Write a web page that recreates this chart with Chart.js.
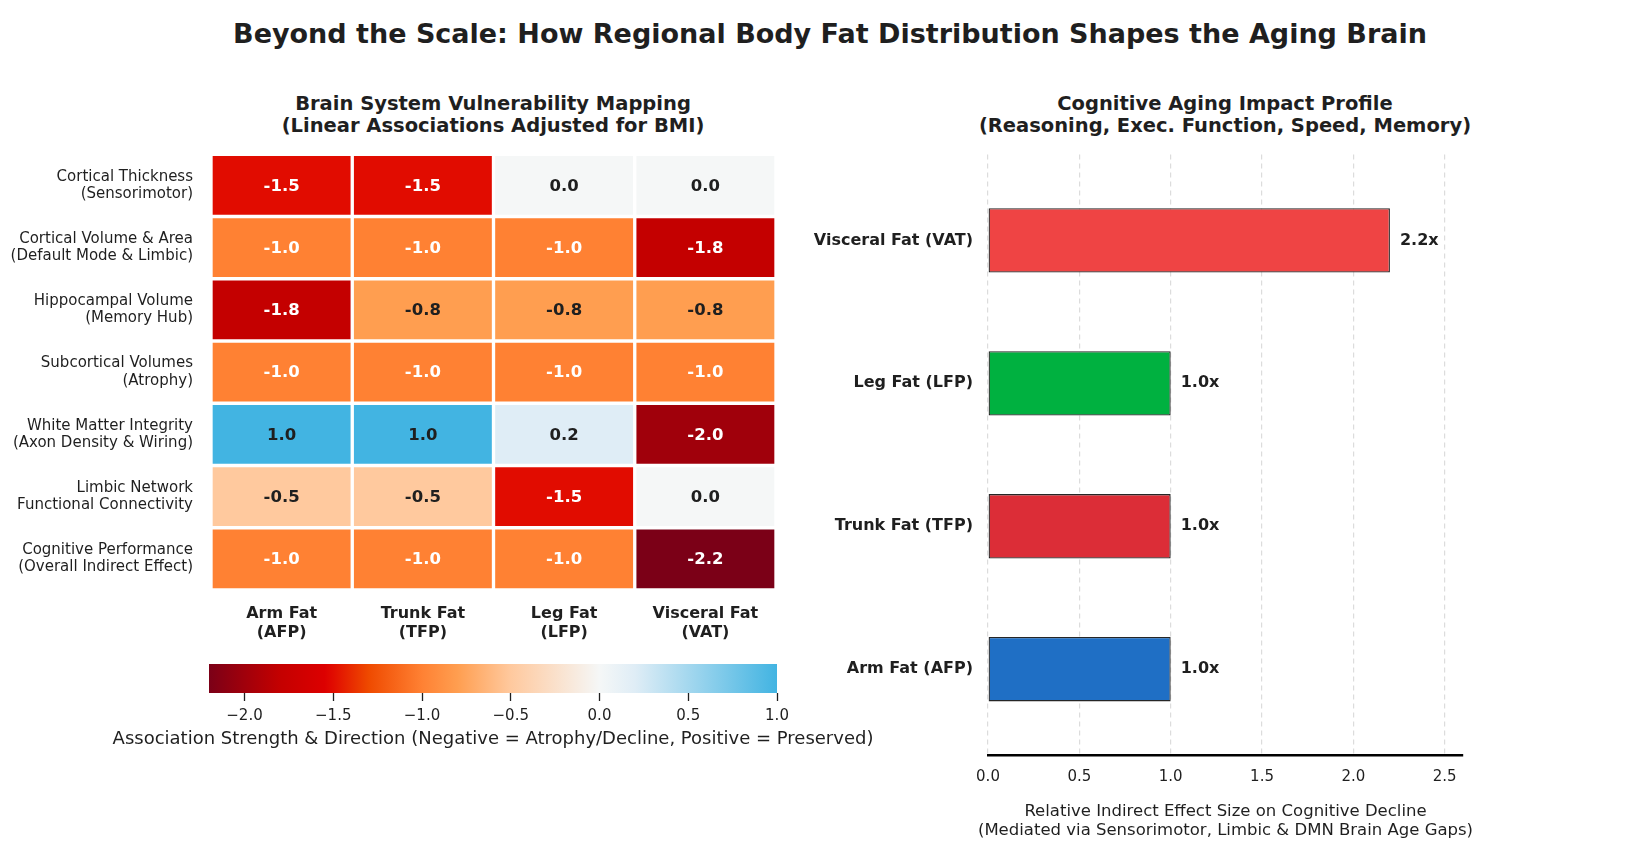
<!DOCTYPE html>
<html>
<head>
<meta charset="utf-8">
<script src="https://cdn.jsdelivr.net/npm/chart.js@4.4.1/dist/chart.umd.min.js"></script>
<style>
html,body{margin:0;padding:0;background:#ffffff;}
#wrap{position:relative;width:1647px;height:866px;overflow:hidden;background:#ffffff;font-family:"DejaVu Sans",sans-serif;color:#1f1f1f;}
.t{position:absolute;white-space:nowrap;transform:translate(-50%,-50%);font-weight:bold;text-align:center;}
canvas{position:absolute;}
</style>
</head>
<body>
<div id="wrap">
  <div class="t" style="left:830px;top:33px;font-size:27px;">Beyond the Scale: How Regional Body Fat Distribution Shapes the Aging Brain</div>
  <div class="t" style="left:493px;top:115px;font-size:19.5px;line-height:22px;">Brain System Vulnerability Mapping<br>(Linear Associations Adjusted for BMI)</div>
  <div class="t" style="left:1225px;top:115px;font-size:19.5px;line-height:22px;">Cognitive Aging Impact Profile<br>(Reasoning, Exec. Function, Speed, Memory)</div>
  <canvas id="heat" style="left:0px;top:119px;width:800px;height:541px;" width="800" height="541"></canvas>
  <canvas id="cbar" style="left:0px;top:650px;width:900px;height:110px;" width="900" height="110"></canvas>
  <canvas id="bars" style="left:800px;top:130px;width:847px;height:736px;" width="847" height="736"></canvas>
</div>
<script>
// ---------- DATA ----------
const heatColumns = [['Arm Fat', '(AFP)'], ['Trunk Fat', '(TFP)'], ['Leg Fat', '(LFP)'], ['Visceral Fat', '(VAT)']];
const heatRows = [
  ['Cortical Thickness', '(Sensorimotor)'],
  ['Cortical Volume & Area', '(Default Mode & Limbic)'],
  ['Hippocampal Volume', '(Memory Hub)'],
  ['Subcortical Volumes', '(Atrophy)'],
  ['White Matter Integrity', '(Axon Density & Wiring)'],
  ['Limbic Network', 'Functional Connectivity'],
  ['Cognitive Performance', '(Overall Indirect Effect)']
];
const rowCorticalThickness   = [-1.5, -1.5, 0.0, 0.0];
const rowCorticalVolume      = [-1.0, -1.0, -1.0, -1.8];
const rowHippocampal         = [-1.8, -0.8, -0.8, -0.8];
const rowSubcortical         = [-1.0, -1.0, -1.0, -1.0];
const rowWhiteMatter         = [1.0, 1.0, 0.2, -2.0];
const rowLimbicConnectivity  = [-0.5, -0.5, -1.5, 0.0];
const rowCognitive           = [-1.0, -1.0, -1.0, -2.2];
const heatValues = [rowCorticalThickness, rowCorticalVolume, rowHippocampal, rowSubcortical, rowWhiteMatter, rowLimbicConnectivity, rowCognitive];

const colorbarRange = [-2.2, 1.0];
const colorbarTicks = [-2.0, -1.5, -1.0, -0.5, 0.0, 0.5, 1.0];
const colorbarTitle = ['Association Strength & Direction (Negative = Atrophy/Decline, Positive = Preserved)'];

const barCategories = ['Arm Fat (AFP)', 'Trunk Fat (TFP)', 'Leg Fat (LFP)', 'Visceral Fat (VAT)'];
const barValues = [1.0, 1.0, 1.0, 2.2];
const barColors = ['#1f6fc5', '#dc2d37', '#00b140', '#ef4444'];
const barTicks = [0.0, 0.5, 1.0, 1.5, 2.0, 2.5];
const barAxisTitle = ['Relative Indirect Effect Size on Cognitive Decline', '(Mediated via Sensorimotor, Limbic & DMN Brain Age Gaps)'];

// ---------- COLORMAP ----------
const cmapStops = [
  [-2.2, '#7b0017'], [-2.0, '#a0000b'], [-1.8, '#c40000'], [-1.55, '#dc0000'], [-1.5, '#e10c00'],
  [-1.3, '#ef4a00'], [-1.0, '#ff8133'], [-0.8, '#ff9e50'], [-0.5, '#ffc99e'], [0.0, '#f5f7f7'],
  [0.2, '#dfedf6'], [1.0, '#42b4e2']
];
function hexToRgb(h){ return [parseInt(h.substr(1,2),16), parseInt(h.substr(3,2),16), parseInt(h.substr(5,2),16)]; }
function cmap(v){
  if (v <= cmapStops[0][0]) return cmapStops[0][1];
  for (let i = 1; i < cmapStops.length; i++){
    const [v1, c1] = cmapStops[i];
    if (v <= v1){
      const [v0, c0] = cmapStops[i-1];
      const t = (v - v0) / (v1 - v0);
      const a = hexToRgb(c0), b = hexToRgb(c1);
      const m = a.map((x, k) => Math.round(x + (b[k] - x) * t));
      return 'rgb(' + m.join(',') + ')';
    }
  }
  return cmapStops[cmapStops.length-1][1];
}

Chart.defaults.font.family = '"DejaVu Sans", sans-serif';
Chart.defaults.color = '#1f1f1f';
Chart.defaults.animation = false;

// Axis title drawn below a horizontal scale without width compression
function axisTitlePlugin(lines, fontSize, lastLineCenterFromBottom, lineFactor) {
  return {
    id: 'axisTitle',
    afterDraw(chart){
      const s = chart.scales.x;
      const ctx = chart.ctx;
      const lh = fontSize * lineFactor;
      ctx.save();
      ctx.font = fontSize + 'px "DejaVu Sans", sans-serif';
      ctx.fillStyle = '#1f1f1f';
      ctx.textAlign = 'center';
      ctx.textBaseline = 'middle';
      const cx = (s.left + s.right) / 2;
      const yLast = s.bottom - lastLineCenterFromBottom;
      lines.forEach((ln, i) => {
        ctx.fillText(ln, cx, yLast - (lines.length - 1 - i) * lh);
      });
      ctx.restore();
    }
  };
}

// ---------- HEATMAP ----------
const heatLabelPlugin = {
  id: 'heatLabels',
  afterDatasetsDraw(chart){
    const ctx = chart.ctx;
    ctx.save();
    ctx.font = 'bold 16.5px "DejaVu Sans", sans-serif';
    ctx.textAlign = 'center';
    ctx.textBaseline = 'middle';
    chart.data.datasets.forEach((ds, r) => {
      chart.getDatasetMeta(r).data.forEach((el, c) => {
        const v = heatValues[r][c];
        const p = el.getCenterPoint();
        ctx.fillStyle = v <= -1.0 ? '#ffffff' : '#1f1f1f';
        ctx.fillText(v.toFixed(1), p.x, p.y + 1);
      });
    });
    ctx.restore();
  }
};

new Chart(document.getElementById('heat'), {
  type: 'bar',
  data: {
    labels: heatColumns,
    datasets: heatRows.map((lab, r) => ({
      label: lab.join(' '),
      data: heatColumns.map(() => [r, r + 1]),
      backgroundColor: heatValues[r].map(v => cmap(v)),
      borderColor: '#ffffff',
      borderWidth: 2,
      borderSkipped: false,
      barPercentage: 1,
      categoryPercentage: 1,
      grouped: false
    }))
  },
  options: {
    responsive: false,
    layout: { padding: { left: 0, right: 24, top: 0, bottom: 0 } },
    plugins: { legend: { display: false }, tooltip: { enabled: false } },
    scales: {
      x: {
        type: 'category',
        offset: true,
        grid: { display: false, drawTicks: false },
        border: { display: false },
        ticks: { font: { size: 16, weight: 'bold', lineHeight: 1.2 }, color: '#1f1f1f', padding: 14, maxRotation: 0, autoSkip: false },
        afterFit(s){ s.height = 70; }
      },
      y: {
        type: 'linear',
        min: 0, max: heatRows.length,
        reverse: true,
        offset: false,
        grid: { display: false, drawTicks: false },
        border: { display: false },
        afterBuildTicks(s){ s.ticks = heatRows.map((_, i) => ({ value: i + 0.5 })); },
        ticks: {
          autoSkip: false,
          font: { size: 15, lineHeight: 1.15 },
          color: '#1f1f1f',
          padding: 18,
          callback: (v) => heatRows[Math.floor(v)]
        },
        afterFit(s){ s.width = 211; }
      }
    }
  },
  plugins: [heatLabelPlugin]
});

// ---------- COLORBAR ----------
new Chart(document.getElementById('cbar'), {
  type: 'bar',
  data: {
    labels: [''],
    datasets: [{
      data: [colorbarRange],
      backgroundColor: (c) => {
        const ch = c.chart, xs = ch.scales.x;
        if (!ch.chartArea || !xs) return '#cccccc';
        const g = ch.ctx.createLinearGradient(xs.left, 0, xs.right, 0);
        cmapStops.forEach(([v, col]) => {
          const f = (xs.getPixelForValue(v) - xs.left) / (xs.right - xs.left);
          g.addColorStop(Math.min(1, Math.max(0, f)), col);
        });
        return g;
      },
      borderWidth: 0,
      barPercentage: 1,
      categoryPercentage: 1
    }]
  },
  options: {
    indexAxis: 'y',
    responsive: false,
    layout: { padding: { left: 209, right: 123, top: 14, bottom: 0 } },
    plugins: { legend: { display: false }, tooltip: { enabled: false } },
    scales: {
      y: { type: 'category', display: false },
      x: {
        type: 'linear',
        min: colorbarRange[0], max: colorbarRange[1],
        afterBuildTicks(s){ s.ticks = colorbarTicks.map(v => ({ value: v })); },
        grid: { display: true, drawOnChartArea: false, drawTicks: true, tickLength: 8, tickColor: '#1f1f1f', tickWidth: 1.3, color: '#1f1f1f' },
        border: { display: false },
        ticks: {
          font: { size: 15 }, color: '#1f1f1f', padding: 6, maxRotation: 0, autoSkip: false,
          callback: (v) => (v < 0 ? '\u2212' : '') + Math.abs(v).toFixed(1)
        },
        afterFit(s){ s.height = 67; }
      }
    }
  },
  plugins: [axisTitlePlugin(colorbarTitle, 18, 21, 1.2)]
});

// ---------- BAR CHART ----------
const barLabelPlugin = {
  id: 'barLabels',
  afterDatasetsDraw(chart){
    const ctx = chart.ctx;
    ctx.save();
    ctx.font = 'bold 16px "DejaVu Sans", sans-serif';
    ctx.textAlign = 'left';
    ctx.textBaseline = 'middle';
    ctx.fillStyle = '#1f1f1f';
    chart.getDatasetMeta(0).data.forEach((el, i) => {
      ctx.fillText(barValues[i].toFixed(1) + 'x', el.x + 10, el.y);
    });
    ctx.restore();
  }
};

new Chart(document.getElementById('bars'), {
  type: 'bar',
  data: {
    datasets: [{
      data: barValues.map((v, i) => ({ x: v, y: i })),
      backgroundColor: barColors,
      borderColor: '#262626',
      borderWidth: 1.3,
      borderSkipped: false,
      barPercentage: 0.45,
      categoryPercentage: 1
    }]
  },
  options: {
    indexAxis: 'y',
    responsive: false,
    layout: { padding: { left: 0, right: 184, top: 0, bottom: 0 } },
    plugins: { legend: { display: false }, tooltip: { enabled: false } },
    scales: {
      y: {
        type: 'linear',
        min: -0.6, max: 3.6,
        offset: false,
        grid: { display: false, drawTicks: false, offset: false },
        border: { display: false },
        afterBuildTicks(s){ s.ticks = barCategories.map((_, i) => ({ value: i })); },
        ticks: {
          autoSkip: false,
          font: { size: 16, weight: 'bold' }, color: '#1f1f1f', padding: 15,
          callback: (v) => barCategories[v]
        },
        afterFit(s){ s.width = 188; }
      },
      x: {
        type: 'linear',
        min: 0, max: 2.6,
        afterBuildTicks(s){ s.ticks = barTicks.map(v => ({ value: v })); },
        grid: { display: true, drawTicks: false, color: '#dcdcdc', lineWidth: 1.2 },
        border: { display: true, color: '#000000', width: 2.5, dash: [5, 4] },
        ticks: { font: { size: 15 }, color: '#1f1f1f', padding: 13, maxRotation: 0, autoSkip: false, callback: (v) => Number(v).toFixed(1) },
        afterFit(s){ s.height = 111; }
      }
    }
  },
  plugins: [barLabelPlugin, axisTitlePlugin(barAxisTitle, 16.5, 35, 1.15)]
});
</script>
</body>
</html>
